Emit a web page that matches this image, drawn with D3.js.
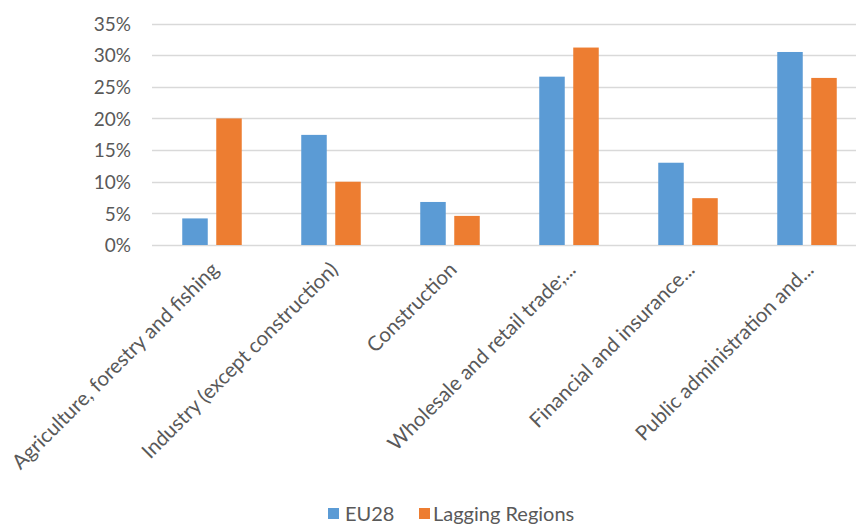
<!DOCTYPE html>
<html>
<head>
<meta charset="utf-8">
<script src="https://cdn.jsdelivr.net/npm/d3@7"></script>
<style>
  html, body { margin: 0; padding: 0; background: #fff; }
  svg { display: block; overflow: hidden; }
  text { font-family: Lato, "Open Sans", sans-serif; fill: #595959; }
</style>
</head>
<body>
<script>
const categories = [
  "Agriculture, forestry and fishing",
  "Industry (except construction)",
  "Construction",
  "Wholesale and retail trade;...",
  "Financial and insurance...",
  "Public administration and..."
];
const seriesNames = ["EU28", "Lagging Regions"];
const eu28 = [0.042, 0.174, 0.068, 0.266, 0.130, 0.305];
const lagging = [0.200, 0.100, 0.046, 0.312, 0.074, 0.264];
const yTicks = [0, 0.05, 0.10, 0.15, 0.20, 0.25, 0.30, 0.35];
const colors = ["#5B9BD5", "#ED7D31"];

const W = 856, H = 524;
const svg = d3.select("body").append("svg").attr("width", W).attr("height", H);

const x = d3.scaleBand().domain(categories).range([152.5, 866.5])
  .paddingInner(0.5).paddingOuter(0.25);
const xs = d3.scaleBand().domain(seriesNames).range([0, x.bandwidth()])
  .paddingInner(0.25).paddingOuter(0);
const y = d3.scaleLinear().domain([0, 0.35]).range([245, 23.5]);

// gridlines
svg.append("g").selectAll("line").data(yTicks).join("line")
  .attr("x1", 152).attr("x2", W)
  .attr("y1", d => Math.round(y(d)) + 0.5).attr("y2", d => Math.round(y(d)) + 0.5)
  .attr("stroke", "#D9D9D9").attr("stroke-width", 1.5);

// y axis labels
const yAxis = d3.axisLeft(y).tickValues(yTicks).tickFormat(d3.format(".0%")).tickSize(0).tickPadding(0);
const gy = svg.append("g").attr("transform", "translate(131,0)").call(yAxis);
gy.select(".domain").remove();
gy.selectAll("text").attr("font-size", 19).attr("fill", "#595959")
  .style("font-family", "Lato, 'Open Sans', sans-serif").attr("dy", "0.35em");

// bars
const series = [eu28, lagging];
const groups = svg.append("g").selectAll("g").data(categories).join("g")
  .attr("transform", d => `translate(${x(d)},0)`);
groups.selectAll("rect").data((d, i) => seriesNames.map((s, j) => ({ s, v: series[j][i], j })))
  .join("rect")
  .attr("x", d => xs(d.s))
  .attr("width", xs.bandwidth())
  .attr("y", d => y(d.v))
  .attr("height", d => y(0) - y(d.v))
  .attr("fill", d => colors[d.j]);

// x axis category labels
const xAxis = d3.axisBottom(x).tickSize(0).tickPadding(0);
const gx = svg.append("g").attr("transform", "translate(0,245)").call(xAxis);
gx.select(".domain").remove();
gx.selectAll("text")
  .attr("font-size", 20.5).attr("fill", "#595959")
  .style("font-family", "Lato, 'Open Sans', sans-serif")
  .attr("text-anchor", "end")
  .attr("dy", null).attr("y", 0)
  .attr("transform", "translate(8,26) rotate(-45)");

// legend
const legend = svg.append("g");
const legendX = [328, 419];
const legendTextX = [345, 433];
seriesNames.forEach((s, i) => {
  legend.append("rect").attr("x", legendX[i]).attr("y", 508).attr("width", 11).attr("height", 11).attr("fill", colors[i]);
  legend.append("text").attr("x", legendTextX[i]).attr("y", 521).attr("font-size", 20).text(s);
});
</script>
</body>
</html>
